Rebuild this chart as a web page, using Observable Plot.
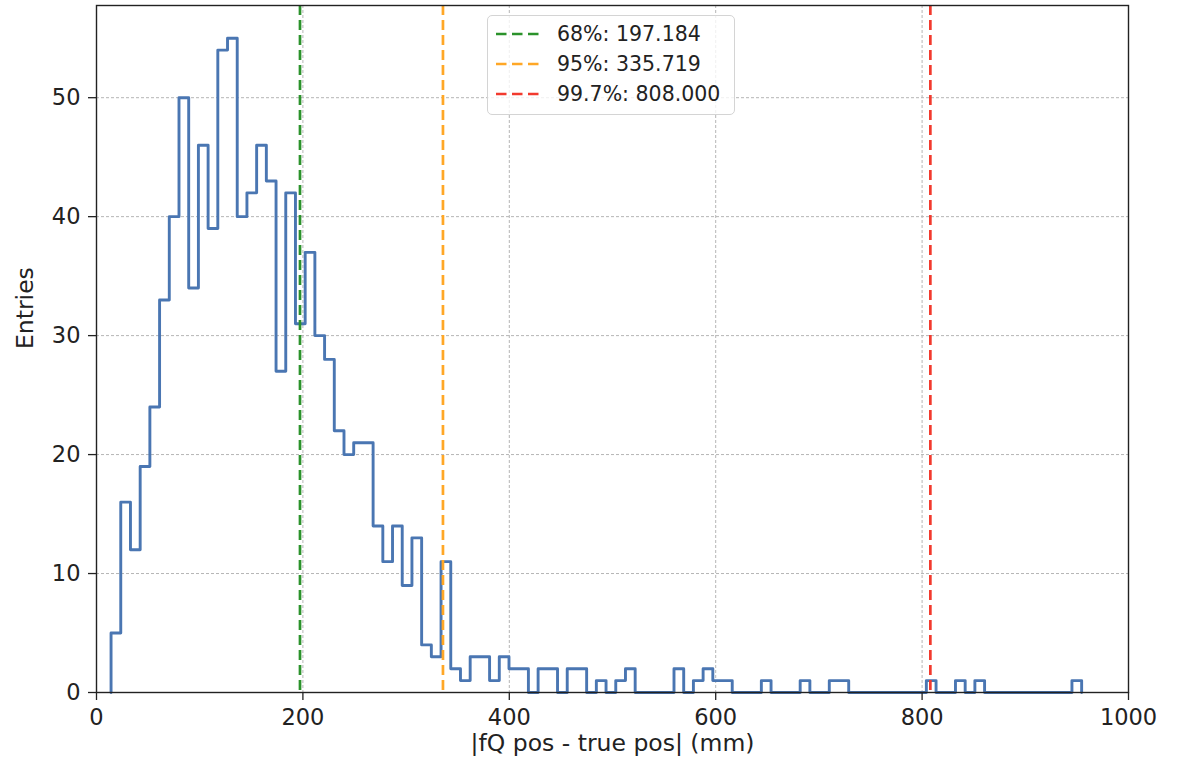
<!DOCTYPE html>
<html><head><meta charset="utf-8">
<script src="https://cdn.jsdelivr.net/npm/d3@7"></script>
<script src="https://cdn.jsdelivr.net/npm/@observablehq/plot@0.6"></script>
<style>
body{margin:0;background:#fff;font-family:"DejaVu Sans",sans-serif;}
#wrap{position:relative;width:1184px;height:769px;}
#legend{position:absolute;left:487px;top:15px;width:248px;height:100px;border:1px solid #d4d4d4;border-radius:5px;background:rgba(255,255,255,0.8);box-sizing:border-box;}
.row{position:absolute;left:0;height:30px;width:100%;font-size:20.5px;color:#222;}
.row svg{position:absolute;left:8px;top:13px;}
.row span{position:absolute;left:69px;top:3px;line-height:24px;white-space:nowrap;}
</style></head><body><div id="wrap"><div id="legend"></div></div>
<script>
// histogram counts, 100 equal bins between histMin and histMax
const counts = [
  5,16,12,19,24,33,40,50,34,46,
  39,54,55,40,42,46,43,27,42,31,
  37,30,28,22,20,21,21,14,11,14,
  9,13,4,3,11,2,1,3,3,1,
  3,2,2,0,2,2,0,2,2,0,
  1,0,1,2,0,0,0,0,2,0,
  1,2,1,1,0,0,0,1,0,0,
  0,1,0,0,1,1,0,0,0,0,
  0,0,0,0,1,0,0,1,0,1,
  0,0,0,0,0,0,0,0,0,1
];
const histMin = 14.1;
const histMax = 954.6;
const xTicks = [0, 200, 400, 600, 800, 1000];
const yTicks = [0, 10, 20, 30, 40, 50];
const quantLabels = ["68%", "95%", "99.7%"];
const quantValues = [197.184, 335.719, 808.000];
const quantColors = ["#2b922b", "#ffa726", "#f23a2e"];
const xLabel = "|fQ pos - true pos| (mm)";
const yLabel = "Entries";

const nb = counts.length;
const bw = (histMax - histMin) / nb;
const steps = [{x: histMin, y: 0}];
counts.forEach((c, i) => steps.push({x: histMin + i * bw, y: c}));
steps.push({x: histMax, y: 0});

const quant = quantLabels.map((l, i) => ({label: l, value: quantValues[i], color: quantColors[i]}));

const gridStyle = {stroke: "#b5b5b5", strokeOpacity: 1, strokeDasharray: "3,2", strokeWidth: 1};

const chart = Plot.plot({
  width: 1184, height: 769,
  marginLeft: 96, marginRight: 56, marginTop: 5, marginBottom: 77,
  style: {fontFamily: "DejaVu Sans, sans-serif", color: "#222", background: "#fff"},
  x: {domain: [0, 1000]},
  y: {domain: [0, d3.max(counts) * 1.05]},
  color: {type: "identity"},
  marks: [
    Plot.gridX(xTicks, gridStyle),
    Plot.gridY(yTicks, gridStyle),
    Plot.line(steps, {x: "x", y: "y", curve: "step-after", stroke: "#4a76b2", strokeWidth: 2.9}),
    Plot.ruleX(quant, {x: "value", stroke: "color", strokeWidth: 2.7, strokeDasharray: "10,5"}),
    Plot.frame({stroke: "#222", strokeWidth: 1.4}),
    Plot.axisX(xTicks, {tickSize: 8, tickPadding: 9, fontSize: 22.5, label: null, strokeWidth: 1.3, tickFormat: d3.format("d")}),
    Plot.axisY(yTicks, {tickSize: 8, tickPadding: 8, fontSize: 22.5, label: null, strokeWidth: 1.3, tickFormat: d3.format("d")}),
    Plot.text([xLabel], {text: d => d, frameAnchor: "bottom", dy: 58, fontSize: 23.5, fill: "#222"}),
    Plot.text([yLabel], {text: d => d, frameAnchor: "left", dx: -71, rotate: -90, fontSize: 23.5, fill: "#222"})
  ]
});
const wrap = document.getElementById("wrap");
wrap.insertBefore(chart, wrap.firstChild);
chart.style.position = "absolute";
chart.style.left = "0";
chart.style.top = "0";

const legend = document.getElementById("legend");
quant.forEach((q, i) => {
  const row = document.createElement("div");
  row.className = "row";
  row.style.top = (3 + i * 30) + "px";
  row.innerHTML = `<svg width="46" height="4"><line x1="0" y1="2" x2="46" y2="2" stroke="${q.color}" stroke-width="2.6" stroke-dasharray="10.5,5.5"/></svg><span>${q.label}: ${q.value.toFixed(3)}</span>`;
  legend.appendChild(row);
});
</script>
</body></html>
